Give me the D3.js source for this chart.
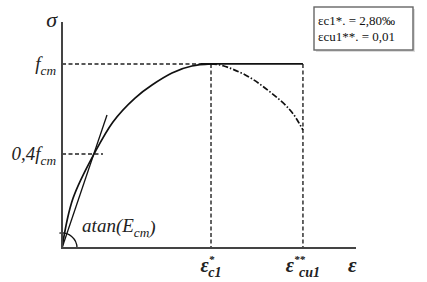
<!DOCTYPE html>
<html>
<head>
<meta charset="utf-8">
<script src="https://cdn.jsdelivr.net/npm/d3@7"></script>
<style>
  body { margin: 0; background: #fff; }
  svg { display: block; }
  text { font-family: "Liberation Serif", "DejaVu Serif", serif; font-style: italic; fill: #222; }
  text.leg { font-style: normal; fill: #111; }
</style>
</head>
<body>
<div class="chart-container"></div>
<script>
// strain normalised by eps_c1, stress normalised by f_cm
var riseStrain = [0, 0.074, 0.215, 0.342, 0.490, 0.604, 0.738, 0.872, 1.0];
var riseStress = [0, 0.270, 0.511, 0.685, 0.815, 0.886, 0.951, 0.989, 1.0];
var fallStrain = [1.0, 1.081, 1.242, 1.396, 1.530, 1.617];
var fallStress = [1.0, 0.990, 0.935, 0.848, 0.750, 0.641];
var tangentStrain = [0, 0.302];
var tangentStress = [0, 0.723];
var epsC1 = 1.0, epsCu1 = 1.617, fcm = 1.0, fcm04 = 0.511;
var xMax = 1.973, yMax = 1.228;
var legendLines = ["\u03b5c1*. = 2,80\u2030", "\u03b5cu1**. = 0,01"];

var width = 427, height = 282;
var margin = {top: 22, right: 71, bottom: 34, left: 62};

var x = d3.scaleLinear().domain([0, xMax]).range([margin.left, width - margin.right]);
var y = d3.scaleLinear().domain([0, yMax]).range([height - margin.bottom, margin.top]);

var svg = d3.select(".chart-container").append("svg")
    .attr("width", width)
    .attr("height", height);

var line = d3.line().x(function(d) { return x(d[0]); }).y(function(d) { return y(d[1]); });
var curve = d3.line().x(function(d) { return x(d[0]); }).y(function(d) { return y(d[1]); })
    .curve(d3.curveNatural);

// dashed guide lines
var dash = svg.append("g").attr("fill", "none").attr("stroke", "#222")
    .attr("stroke-width", 1.4).attr("stroke-dasharray", "4,2.5");
dash.append("path").attr("d", line([[0, fcm], [epsC1, fcm]]));
dash.append("path").attr("d", line([[epsC1, fcm], [epsC1, 0]]));
dash.append("path").attr("d", line([[epsCu1, fcm], [epsCu1, 0]]));
dash.append("path").attr("d", line([[0, fcm04], [0.275, fcm04]]));

// plateau
svg.append("path").attr("d", line([[epsC1 * 0.93, fcm], [epsCu1, fcm]]))
    .attr("fill", "none").attr("stroke", "#111").attr("stroke-width", 1.7);

// ascending branch
svg.append("path").datum(d3.zip(riseStrain, riseStress))
    .attr("d", curve).attr("fill", "none").attr("stroke", "#111").attr("stroke-width", 1.7);

// descending branch (dash-dot)
svg.append("path").datum(d3.zip(fallStrain, fallStress))
    .attr("d", curve).attr("fill", "none").attr("stroke", "#111").attr("stroke-width", 1.7)
    .attr("stroke-dasharray", "6,2,1.5,2");

// tangent
svg.append("path").datum(d3.zip(tangentStrain, tangentStress))
    .attr("d", line).attr("fill", "none").attr("stroke", "#111").attr("stroke-width", 1.3);

// angle arc
var ang = Math.atan2(y(0) - y(tangentStress[1]), x(tangentStrain[1]) - x(0));
svg.append("path")
    .attr("transform", "translate(" + x(0) + "," + y(0) + ")")
    .attr("d", d3.arc()({innerRadius: 15, outerRadius: 15, startAngle: Math.PI / 2 - ang - 0.5, endAngle: Math.PI / 2}))
    .attr("fill", "none").attr("stroke", "#111").attr("stroke-width", 1.3);

// axes
var axes = svg.append("g").attr("stroke", "#444").attr("stroke-width", 2).attr("fill", "none");
axes.append("path").attr("d", line([[0, yMax], [0, 0], [xMax, 0]]));

// labels
function label(px, py, main, sub, sup, size, anchor, bold) {
  var t = svg.append("text").attr("x", px).attr("y", py)
      .attr("font-size", size).attr("text-anchor", anchor || "start")
      .attr("font-weight", bold ? "bold" : "normal");
  t.append("tspan").text(main);
  if (sup) t.append("tspan").attr("font-size", size * 0.55).attr("dy", -size * 0.45).text(sup);
  if (sub) t.append("tspan").attr("font-size", size * 0.7).attr("dx", sup ? -size * 0.3 : 0)
      .attr("dy", sup ? size * 0.7 : size * 0.25).text(sub);
  return t;
}
label(x(0) - 5, 27, "\u03c3", null, null, 22, "end");
label(x(0) - 6, y(fcm) + 6, "f", "cm", null, 19, "end");
label(x(0) - 6, y(fcm04) + 6, "0,4f", "cm", null, 19, "end");
label(x(0.135), y(0) - 16, "atan(E", "cm", null, 19, "start").append("tspan").attr("dy", -3).attr("font-size", 19).text(")");
label(x(epsC1), 272, "\u03b5", "c1", "*", 20, "middle", true);
label(x(epsCu1), 272, "\u03b5", "cu1", "**", 20, "middle", true);
label(x(xMax) - 8, 272, "\u03b5", null, null, 21, "start", true);

// legend box
var lg = svg.append("g");
lg.append("rect").attr("x", 316).attr("y", 9).attr("width", 99).attr("height", 43).attr("fill", "#ddd");
lg.append("rect").attr("x", 314).attr("y", 7).attr("width", 99).attr("height", 43)
    .attr("fill", "#fff").attr("stroke", "#666").attr("stroke-width", 1.4);
lg.selectAll("text.leg").data(legendLines).enter().append("text")
    .attr("class", "leg").attr("x", 318).attr("y", function(d, i) { return 25 + i * 16; })
    .attr("font-size", 13).text(function(d) { return d; });
</script>
</body>
</html>
